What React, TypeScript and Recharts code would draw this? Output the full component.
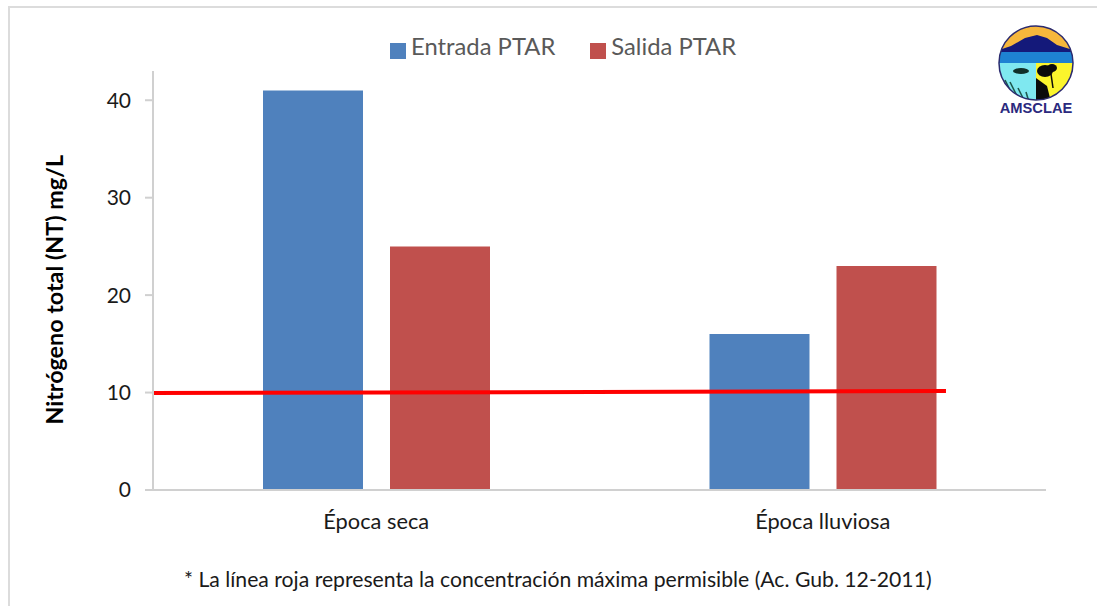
import React from 'react';
import { ComposedChart, Bar, XAxis, YAxis, Legend, ReferenceLine } from 'recharts';

const categories = ['Época seca', 'Época lluviosa'];
const entradaValues = [41, 16];
const salidaValues = [25, 23];
const yTicks = [0, 10, 20, 30, 40];
const limitFractions = [0, 0.888];
const limitValues = [9.95, 10.15];

const chartData = categories.map((name, i) => ({
  name,
  entrada: entradaValues[i],
  salida: salidaValues[i],
}));

const FONT = 'Lato, "Open Sans", sans-serif';
const AXIS_COLOR = '#d0d0d0';

const Logo = () => (
  <svg width={90} height={110} viewBox="0 0 90 110" style={{ position: 'absolute', left: 991, top: 18 }}>
    <defs>
      <clipPath id="logoClip">
        <circle cx={45} cy={45} r={37} />
      </clipPath>
    </defs>
    <g clipPath="url(#logoClip)">
      <rect x={0} y={0} width={90} height={40} fill="#f6b73c" />
      <path d="M5 33 L20 28 L34 20 L46 17 L56 20 L66 27 L85 33 L85 40 L5 40 Z" fill="#14197a" />
      <rect x={0} y={34} width={90} height={11} fill="#1e82d2" />
      <rect x={0} y={45} width={45} height={40} fill="#7fe8f0" />
      <rect x={45} y={45} width={45} height={40} fill="#fbf52c" />
      <ellipse cx={30} cy={53} rx={8} ry={3} fill="#10302a" />
      <path d="M14 62 L22 78 M19 64 L28 82 M27 70 L33 82 M35 74 L38 84" stroke="#1f5a50" strokeWidth={1.6} fill="none" />
      <ellipse cx={54} cy={53} rx={8} ry={6} fill="#0b0b0b" />
      <ellipse cx={61} cy={50} rx={5} ry={4} fill="#0b0b0b" />
      <path d="M60 56 L62 70" stroke="#0b0b0b" strokeWidth={1.5} />
      <path d="M45 60 L56 68 L60 84 L45 84 Z" fill="#0b0b0b" />
    </g>
    <circle cx={45} cy={45} r={37} fill="none" stroke="#2b2a6e" strokeWidth={1.5} />
    <text x={45} y={95} textAnchor="middle" fontFamily="Liberation Sans" fontWeight={700} fontSize={14.7} fill="#2b2a7e">
      AMSCLAE
    </text>
  </svg>
);

const App: React.FC = () => {
  return (
    <div style={{ position: 'absolute', left: 0, top: 0, width: 1097, height: 606, background: '#fff', overflow: 'hidden', fontFamily: FONT }}>
      <div style={{ position: 'absolute', left: 8, top: 6, right: 0, bottom: -4, borderTop: '2px solid #dcdcdc', borderLeft: '2px solid #dcdcdc' }} />
      <ComposedChart
        width={1097}
        height={606}
        data={chartData}
        margin={{ top: 37, right: 51, bottom: 0, left: 0 }}
        barSize={100}
        barGap={27}
        style={{ position: 'absolute', left: 0, top: 0 }}
      >
        <XAxis
          dataKey="name"
          height={116}
          tickLine={false}
          tickMargin={18}
          interval={0}
          axisLine={{ stroke: AXIS_COLOR, strokeWidth: 2 }}
          tick={{ fill: '#1a1a1a', fontSize: 21.8, fontFamily: FONT }}
        />
        <XAxis xAxisId="limit" type="number" domain={[0, 1]} hide />
        <YAxis
          width={153}
          domain={[0, 43]}
          ticks={yTicks}
          interval={0}
          tickSize={8}
          tickMargin={14}
          axisLine={{ stroke: AXIS_COLOR, strokeWidth: 2 }}
          tickLine={{ stroke: AXIS_COLOR, strokeWidth: 2 }}
          tick={{ fill: '#1a1a1a', fontSize: 21, fontFamily: FONT }}
          label={{
            value: 'Nitrógeno total (NT) mg/L',
            angle: -90,
            position: 'insideLeft',
            dx: 50,
            dy: 144,
            style: { fill: '#000', fontSize: 23.3, fontWeight: 700, fontFamily: FONT },
          }}
        />
        <Legend
          verticalAlign="top"
          align="left"
          iconType="square"
          iconSize={16}
          wrapperStyle={{ position: 'absolute', left: 390, top: 32, width: 420, height: 34 }}
          formatter={(value: string) => (
            <span style={{ color: '#595959', fontSize: 23.8, fontFamily: FONT, marginLeft: 1, marginRight: 25 }}>{value}</span>
          )}
        />
        <Bar dataKey="entrada" name="Entrada PTAR" fill="#4f81bd" isAnimationActive={false} />
        <Bar dataKey="salida" name="Salida PTAR" fill="#c0504d" isAnimationActive={false} />
        <ReferenceLine
          xAxisId="limit"
          segment={[
            { x: limitFractions[0], y: limitValues[0] },
            { x: limitFractions[1], y: limitValues[1] },
          ]}
          stroke="#ff0000"
          strokeWidth={4}
        />
      </ComposedChart>
      <Logo />
      <div style={{ position: 'absolute', left: 184, top: 566, fontSize: 21.2, color: '#1a1a1a', whiteSpace: 'nowrap' }}>
        * La línea roja representa la concentración máxima permisible (Ac. Gub. 12-2011)
      </div>
    </div>
  );
};

export default App;
